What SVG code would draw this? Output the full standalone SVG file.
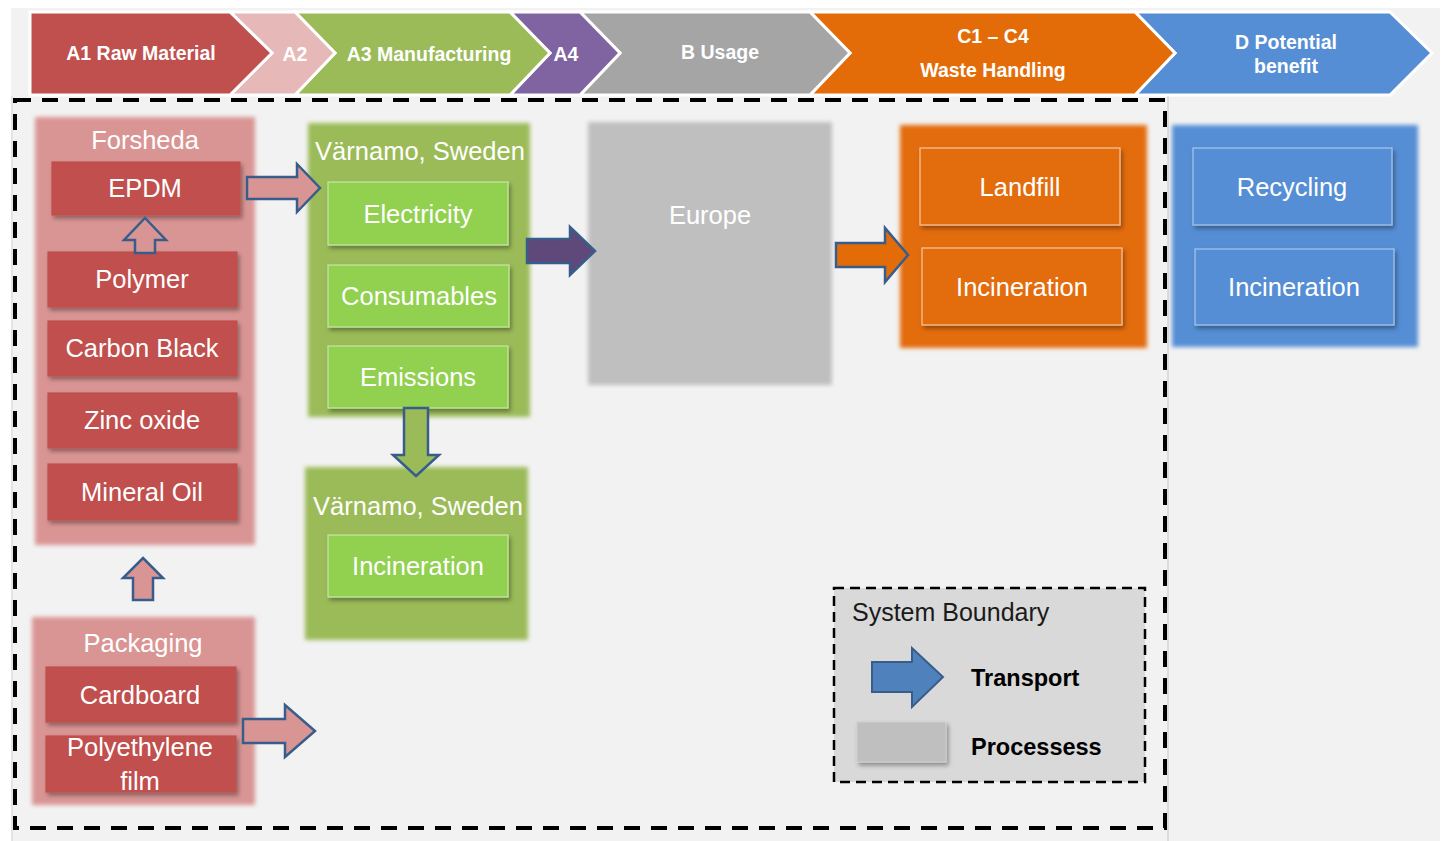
<svg xmlns="http://www.w3.org/2000/svg" width="1443" height="841" viewBox="0 0 1443 841">
<style>
.chev{stroke:#fff;stroke-width:3;stroke-linejoin:miter}
.ct{font-family:"Liberation Sans",Arial,sans-serif;font-weight:bold;font-size:19.5px;fill:#fff;text-anchor:middle}
.t{font-family:"Liberation Sans",Arial,sans-serif;font-size:25.5px;fill:#fff;text-anchor:middle}
.grp{filter:url(#soft)}
.box{stroke-width:1.2;filter:url(#shadow)}
.red{fill:#c0504d;stroke:#c0504d}
.grn{fill:#92d050;stroke:#c6e6a8}
.org{fill:#e36c09;stroke:#f5c8a3}
.blu{fill:#558ed5;stroke:#a9c6ec}
.arr{stroke:#385d8a;stroke-width:2.5;stroke-linejoin:miter}
.lt{font-family:"Liberation Sans",Arial,sans-serif;font-size:25px;fill:#1a1a1a}
.lb{font-family:"Liberation Sans",Arial,sans-serif;font-size:23.5px;font-weight:bold;fill:#000}
</style>
<defs>
<filter id="soft" x="-5%" y="-5%" width="110%" height="110%"><feGaussianBlur stdDeviation="2"/></filter>
<filter id="shadow" x="-10%" y="-10%" width="125%" height="140%"><feDropShadow dx="2" dy="3" stdDeviation="2" flood-color="#000" flood-opacity="0.35"/></filter>
</defs>
<rect x="0" y="0" width="1443" height="841" fill="#fff"/>
<rect x="11" y="8" width="1429" height="833" fill="#f2f2f2"/>
<line x1="1168" y1="96" x2="1168" y2="841" stroke="#d4d4d4" stroke-width="1.5"/>
<line x1="12" y1="96" x2="12" y2="841" stroke="#d4d4d4" stroke-width="1"/>

<g id="phases">
<path class="chev" fill="#558ed5" d="M1135,12 L1390,12 L1432,53 L1390,95 L1135,95 L1175,53 Z"/>
<path class="chev" fill="#e36c09" d="M810,12 L1135,12 L1175,53 L1135,95 L810,95 L850,53 Z"/>
<path class="chev" fill="#a5a5a5" d="M580,12 L810,12 L850,53 L810,95 L580,95 L620,53 Z"/>
<path class="chev" fill="#8064a2" d="M510,12 L580,12 L620,53 L580,95 L510,95 L550,53 Z"/>
<path class="chev" fill="#9bbb59" d="M295,12 L510,12 L550,53 L510,95 L295,95 L335,53 Z"/>
<path class="chev" fill="#e6b9b8" d="M230,12 L295,12 L335,53 L295,95 L230,95 L272,53 Z"/>
<path class="chev" fill="#c0504d" d="M30,12 L230,12 L272,53 L230,95 L30,95 Z"/>
<text class="ct" x="141" y="60">A1 Raw Material</text>
<text class="ct" x="295" y="61">A2</text>
<text class="ct" x="429" y="61">A3 Manufacturing</text>
<text class="ct" x="566" y="61">A4</text>
<text class="ct" x="720" y="59">B Usage</text>
<text class="ct" x="993" y="43">C1 – C4</text>
<text class="ct" x="993" y="77">Waste Handling</text>
<text class="ct" x="1286" y="49">D Potential</text>
<text class="ct" x="1286" y="73">benefit</text>
</g>

<rect id="boundary" x="15" y="100" width="1150" height="728" fill="none" stroke="#000" stroke-width="4" stroke-dasharray="16,11"/>

<g id="forsheda">
<rect class="grp" x="35" y="117" width="220" height="428" fill="#d99594"/>
<text class="t" x="145" y="149">Forsheda</text>
</g>
<g id="epdm"><rect class="box red" x="52" y="162" width="188" height="53"/><text class="t" x="145" y="197">EPDM</text></g>
<g id="polymer"><rect class="box red" x="48" y="252" width="189" height="55"/><text class="t" x="142" y="288">Polymer</text></g>
<g id="carbon"><rect class="box red" x="48" y="321" width="189" height="55"/><text class="t" x="142" y="357">Carbon Black</text></g>
<g id="zinc"><rect class="box red" x="48" y="393" width="189" height="55"/><text class="t" x="142" y="429">Zinc oxide</text></g>
<g id="mineral"><rect class="box red" x="48" y="464" width="189" height="56"/><text class="t" x="142" y="501">Mineral Oil</text></g>

<g id="packaging">
<rect class="grp" x="32" y="617" width="223" height="188" fill="#d99594"/>
<text class="t" x="143" y="652">Packaging</text>
</g>
<g id="cardboard"><rect class="box red" x="46" y="667" width="190" height="55"/><text class="t" x="140" y="704">Cardboard</text></g>
<g id="polyethylene"><rect class="box red" x="46" y="736" width="190" height="56"/><text class="t" x="140" y="756">Polyethylene</text><text class="t" x="140" y="790">film</text></g>

<g id="varnamo1">
<rect class="grp" x="308" y="123" width="222" height="294" fill="#9bbb59"/>
<text class="t" x="420" y="160">Värnamo, Sweden</text>
</g>
<g id="electricity"><rect class="box grn" x="328" y="182" width="180" height="63"/><text class="t" x="418" y="223">Electricity</text></g>
<g id="consumables"><rect class="box grn" x="328" y="265" width="181" height="62"/><text class="t" x="419" y="305">Consumables</text></g>
<g id="emissions"><rect class="box grn" x="328" y="346" width="180" height="62"/><text class="t" x="418" y="386">Emissions</text></g>

<g id="varnamo2">
<rect class="grp" x="305" y="467" width="223" height="173" fill="#9bbb59"/>
<text class="t" x="418" y="515">Värnamo, Sweden</text>
</g>
<g id="incin-a"><rect class="box grn" x="328" y="535" width="180" height="62"/><text class="t" x="418" y="575">Incineration</text></g>

<g id="europe">
<rect class="grp" x="588" y="122" width="244" height="263" fill="#bfbfbf"/>
<text class="t" x="710" y="224">Europe</text>
</g>

<g id="waste">
<rect class="grp" x="900" y="125" width="247" height="223" fill="#e36c09"/>
</g>
<g id="landfill"><rect class="box org" x="920" y="148" width="200" height="77"/><text class="t" x="1020" y="196">Landfill</text></g>
<g id="incin-c"><rect class="box org" x="922" y="248" width="200" height="77"/><text class="t" x="1022" y="296">Incineration</text></g>

<g id="benefit">
<rect class="grp" x="1172" y="125" width="246" height="222" fill="#558ed5"/>
</g>
<g id="recycling"><rect class="box blu" x="1193" y="148" width="199" height="77"/><text class="t" x="1292" y="196">Recycling</text></g>
<g id="incin-d"><rect class="box blu" x="1195" y="249" width="199" height="76"/><text class="t" x="1294" y="296">Incineration</text></g>

<g id="connectors">
<path class="arr" fill="#d99594" d="M247,177 L297,177 L297,164 L320,188 L297,212 L297,199 L247,199 Z"/>
<path class="arr" fill="#d99594" d="M145,218 L166,240 L155,240 L155,253 L135,253 L135,240 L124,240 Z"/>
<path class="arr" fill="#d99594" d="M143,558 L163,578 L153,578 L153,600 L133,600 L133,578 L123,578 Z"/>
<path class="arr" fill="#d99594" d="M243,719 L285,719 L285,705 L315,731 L285,757 L285,743 L243,743 Z"/>
<path class="arr" fill="#9bbb59" d="M404,408 L428,408 L428,455 L439,455 L416,476 L393,455 L404,455 Z"/>
<path class="arr" fill="#5f497a" d="M527,239 L570,239 L570,227 L595,251 L570,275 L570,263 L527,263 Z"/>
<path class="arr" fill="#e36c09" d="M836,243 L885,243 L885,228 L908,255 L885,282 L885,267 L836,267 Z"/>
</g>

<g id="legend">
<rect x="834" y="588" width="311" height="194" fill="#d9d9d9" stroke="#000" stroke-width="2.5" stroke-dasharray="10,6"/>
<text class="lt" x="852" y="621">System Boundary</text>
<path fill="#4f81bd" stroke="#385d8a" stroke-width="2" d="M872,662 L912,662 L912,648 L943,677 L912,707 L912,692 L872,692 Z"/>
<text class="lb" x="971" y="686">Transport</text>
<rect x="857" y="722" width="89" height="40" fill="#bfbfbf" stroke="#cfcfcf" stroke-width="1" filter="url(#shadow)"/>
<text class="lb" x="971" y="755">Processess</text>
</g>
</svg>
